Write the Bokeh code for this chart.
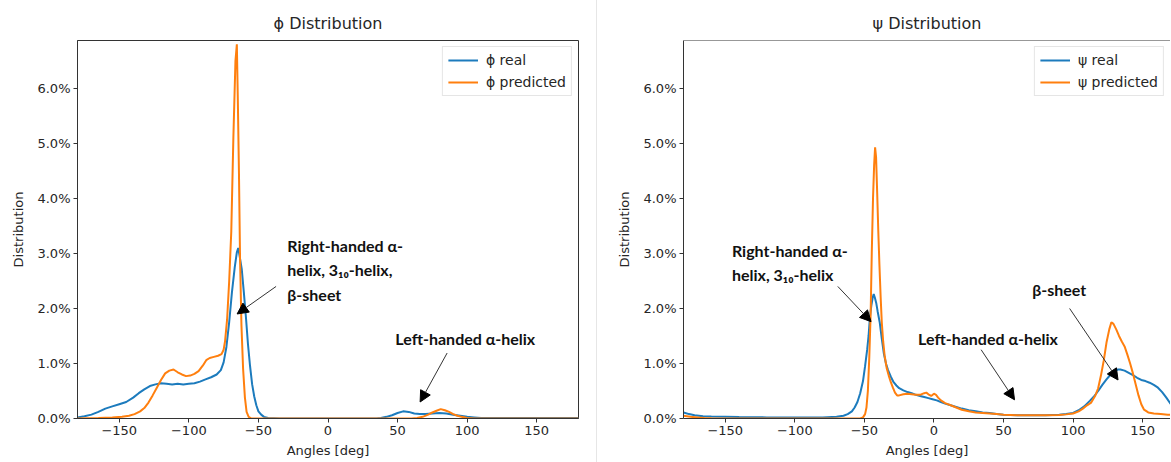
from bokeh.plotting import figure
from bokeh.models import (Label, Arrow, NormalHead, Legend, LegendItem, FixedTicker,
                          CustomJSTickFormatter, Span, Div, Range1d)
from bokeh.layouts import row
from bokeh.embed import file_html
from bokeh.resources import INLINE

# ---------------- data (angles in degrees, distribution in %) ----------------
phi_real_x = [-180, -175, -170, -165, -160, -155, -150, -145, -140, -136, -132, -128, -124, -120,
              -116, -112, -108, -104, -100, -96, -92, -88, -84, -80, -77, -75, -73, -71, -69, -67,
              -65.5, -64.5, -63.5, -62, -60.5, -59, -57.5, -56, -54.5, -53, -51.5, -50, -48, -46,
              -43, -35, 0, 35, 38, 42, 46, 50, 54, 58, 62, 66, 70, 75, 80, 85, 90, 95, 100, 105,
              110, 120, 150, 180]
phi_real_y = [0.02, 0.04, 0.07, 0.12, 0.18, 0.22, 0.26, 0.30, 0.38, 0.46, 0.53, 0.59, 0.62, 0.64,
              0.63, 0.62, 0.63, 0.62, 0.63, 0.64, 0.67, 0.71, 0.75, 0.80, 0.88, 1.02, 1.30, 1.75,
              2.30, 2.75, 3.02, 3.10, 2.95, 2.72, 2.30, 1.85, 1.35, 0.95, 0.62, 0.40, 0.24, 0.13,
              0.07, 0.03, 0.01, 0.0, 0.0, 0.0, 0.01, 0.03, 0.06, 0.10, 0.13, 0.12, 0.09, 0.08, 0.08,
              0.09, 0.10, 0.09, 0.07, 0.05, 0.03, 0.02, 0.01, 0.01, 0.01, 0.01]

phi_pred_x = [-180, -165, -155, -148, -143, -139, -135, -132, -129, -126, -123, -120, -117, -114,
              -111, -108, -105, -102, -99, -96, -93, -90, -87.5, -85, -82, -79, -76.5, -75, -74,
              -72.5, -71, -69.5, -68, -66.5, -65.5, -64.8, -64, -63.2, -62.2, -61, -59.7, -58.5,
              -57, -55, 0, 60, 64, 68, 72, 75, 78, 81, 84, 87, 90, 93, 96, 100, 105, 180]
phi_pred_y = [0.0, 0.01, 0.02, 0.03, 0.05, 0.08, 0.13, 0.19, 0.29, 0.42, 0.56, 0.70, 0.82, 0.87,
              0.89, 0.84, 0.80, 0.77, 0.78, 0.81, 0.86, 0.96, 1.06, 1.10, 1.12, 1.14, 1.17, 1.25,
              1.40, 1.80, 2.50, 3.40, 5.10, 6.50, 6.80, 5.80, 4.50, 2.90, 1.70, 0.90, 0.38, 0.12,
              0.03, 0.0, 0.0, 0.0, 0.01, 0.03, 0.07, 0.11, 0.14, 0.17, 0.15, 0.12, 0.08, 0.05,
              0.03, 0.01, 0.0, 0.0]

psi_real_x = [-180, -176, -172, -166, -160, -150, -140, -120, -100, -80, -70, -65, -62, -59, -57,
              -55, -53, -51, -49.5, -48, -47, -46, -45, -44, -43.3, -42.5, -41.5, -40.5, -39,
              -37.5, -36, -34.5, -33, -31, -29, -27, -25, -22, -19, -16, -13, -10, -7, -4, -1, 2,
              5, 8, 12, 16, 20, 25, 30, 35, 40, 45, 50, 55, 60, 70, 80, 85, 90, 95, 100, 104, 108,
              112, 115, 118, 121, 124, 127, 130, 132, 134, 137, 140, 143, 146, 149, 152, 155, 158,
              161, 164, 167, 170, 173, 176, 180]
psi_real_y = [0.11, 0.08, 0.06, 0.04, 0.035, 0.03, 0.025, 0.02, 0.02, 0.02, 0.03, 0.05, 0.08, 0.13,
              0.20, 0.30, 0.46, 0.68, 0.95, 1.25, 1.50, 1.85, 2.05, 2.20, 2.26, 2.20, 2.10, 1.95,
              1.75, 1.45, 1.18, 1.00, 0.88, 0.76, 0.66, 0.60, 0.55, 0.51, 0.48, 0.46, 0.43, 0.41,
              0.39, 0.37, 0.35, 0.33, 0.30, 0.27, 0.24, 0.21, 0.18, 0.15, 0.13, 0.11, 0.10, 0.08,
              0.07, 0.065, 0.06, 0.06, 0.06, 0.065, 0.07, 0.08, 0.10, 0.15, 0.22, 0.32, 0.40, 0.50,
              0.61, 0.71, 0.80, 0.86, 0.89, 0.89, 0.87, 0.83, 0.79, 0.74, 0.70, 0.68, 0.65, 0.61,
              0.56, 0.48, 0.38, 0.27, 0.20, 0.15, 0.11]

psi_pred_x = [-180, -175, -170, -165, -160, -150, -53, -51, -49.5, -48.5, -47.5, -46.5, -45.5,
              -44.7, -43.8, -43, -42.3, -41.6, -40.8, -40, -39.2, -38.3, -37.5, -36.5, -35.5, -34,
              -32.5, -31, -29.5, -28, -26.5, -25, -22, -19, -16, -13, -10, -7, -5.5, -4, -2, 0, 1.5,
              3, 5, 8, 12, 16, 20, 25, 30, 35, 40, 45, 50, 60, 70, 80, 90, 95, 100, 104, 107, 110,
              113, 116, 118, 120, 122, 124, 126, 127.5, 129, 131, 133, 135, 137, 139, 141, 143, 145,
              147, 149, 151, 154, 158, 163, 168, 174, 180]
psi_pred_y = [0.05, 0.03, 0.02, 0.01, 0.005, 0.0, 0.0, 0.02, 0.08, 0.20, 0.50, 1.10, 1.90, 3.00,
              4.00, 4.60, 4.93, 4.75, 4.10, 3.40, 2.80, 2.20, 1.75, 1.40, 1.15, 0.92, 0.78, 0.66,
              0.56, 0.47, 0.42, 0.42, 0.44, 0.45, 0.44, 0.43, 0.43, 0.46, 0.47, 0.44, 0.41, 0.45,
              0.43, 0.38, 0.33, 0.28, 0.24, 0.20, 0.16, 0.13, 0.11, 0.10, 0.09, 0.08, 0.07, 0.06,
              0.06, 0.06, 0.065, 0.075, 0.09, 0.13, 0.18, 0.24, 0.29, 0.42, 0.55, 0.78, 1.05, 1.38,
              1.62, 1.75, 1.72, 1.62, 1.50, 1.40, 1.31, 1.16, 1.00, 0.82, 0.62, 0.42, 0.26, 0.16,
              0.11, 0.09, 0.08, 0.07, 0.06, 0.05]

x_ticks = [-150, -100, -50, 0, 50, 100, 150]
y_ticks = [0, 1, 2, 3, 4, 5, 6]

BLUE = "#1c7bbd"
ORANGE = "#ff7f0e"
TXT = "#262626"
AX = "#333333"
FONT = "DejaVu Sans"
ANN_FONT = "Lato"

Y_TOP = 6.87


def style(p, title_text):
    p.title.text = title_text
    p.title.text_font = FONT
    p.title.text_font_size = "16px"
    p.title.text_font_style = "normal"
    p.title.text_color = TXT
    p.title.align = "center"
    p.title.standoff = 15
    p.background_fill_color = "white"
    p.border_fill_color = "white"
    p.xgrid.visible = False
    p.ygrid.visible = False
    for ax in (p.xaxis[0], p.yaxis[0]):
        ax.axis_line_color = AX
        ax.major_tick_line_color = AX
        ax.major_tick_in = 0
        ax.major_tick_out = 4
        ax.minor_tick_line_color = None
        ax.major_label_text_font = FONT
        ax.major_label_text_font_size = "13px"
        ax.major_label_text_color = TXT
        ax.axis_label_text_font = FONT
        ax.axis_label_text_font_size = "13px"
        ax.axis_label_text_font_style = "normal"
        ax.axis_label_text_color = TXT
        ax.major_label_standoff = 3
    p.xaxis[0].ticker = FixedTicker(ticks=x_ticks)
    p.xaxis[0].formatter = CustomJSTickFormatter(
        code="return tick < 0 ? '\\u2212' + Math.abs(tick) : String(tick);")
    p.xaxis[0].axis_label = "Angles [deg]"
    p.xaxis[0].axis_label_standoff = 5
    p.yaxis[0].ticker = FixedTicker(ticks=y_ticks)
    p.yaxis[0].formatter = CustomJSTickFormatter(code="return tick.toFixed(1) + '%';")
    p.yaxis[0].axis_label = "Distribution"
    p.yaxis[0].axis_label_standoff = 8


def add_legend(p, r1, r2, l1, l2):
    leg = Legend(items=[LegendItem(label=l1, renderers=[r1]), LegendItem(label=l2, renderers=[r2])],
                 location="top_right")
    leg.label_text_font = FONT
    leg.label_text_font_size = "14px"
    leg.label_text_color = TXT
    leg.glyph_width = 30
    leg.glyph_height = 16
    leg.label_height = 16
    leg.label_standoff = 8
    leg.spacing = 6
    leg.padding = 5
    leg.margin = 6
    leg.border_line_color = "#cccccc"
    leg.border_line_width = 1
    leg.background_fill_alpha = 0.85
    p.add_layout(leg)


def label(p, x, y, text):
    p.add_layout(Label(x=x, y=y, text=text, text_font=ANN_FONT, text_font_style="bold",
                       text_font_size="16px", text_color="#111111", text_baseline="middle",
                       text_align="left"))


def arrow(p, xs, ys, xe, ye):
    p.add_layout(Arrow(end=NormalHead(size=11, fill_color="black", line_color="black"),
                       x_start=xs, y_start=ys, x_end=xe, y_end=ye,
                       line_color="#333333", line_width=1))


# ---------------- left panel ----------------
p1 = figure(width=596, height=462, output_backend="svg", toolbar_location=None,
            x_range=Range1d(-180, 180), y_range=Range1d(0, Y_TOP),
            min_border_left=77, min_border_right=18, min_border_top=40, min_border_bottom=44)
style(p1, "\u03d5 Distribution")
p1.outline_line_color = AX
p1.outline_line_width = 1
r1 = p1.line(phi_real_x, phi_real_y, line_color=BLUE, line_width=2)
r2 = p1.line(phi_pred_x, phi_pred_y, line_color=ORANGE, line_width=2)
add_legend(p1, r1, r2, "\u03d5 real", "\u03d5 predicted")
label(p1, -29.3, 3.14, "Right-handed \u03b1-")
label(p1, -29.3, 2.70, "helix, 3\u2081\u2080-helix,")
label(p1, -29.3, 2.26, "\u03b2-sheet")
arrow(p1, -37.3, 2.40, -65.3, 1.90)
label(p1, 48.4, 1.46, "Left-handed \u03b1-helix")
arrow(p1, 85.6, 1.19, 66.2, 0.30)

# ---------------- separator ----------------
sep = Div(width=1, height=462, margin=0, styles={"background-color": "#e6e6e6"})

# ---------------- right panel ----------------
p2 = figure(width=573, height=462, output_backend="svg", toolbar_location=None,
            x_range=Range1d(-180, 170), y_range=Range1d(0, Y_TOP),
            min_border_left=86, min_border_right=0, min_border_top=40, min_border_bottom=44)
style(p2, "\u03c8 Distribution")
p2.title.offset = 5
p2.outline_line_color = None
p2.add_layout(Span(location=Y_TOP, dimension="width", line_color=AX, line_width=1))
r3 = p2.line(psi_real_x, psi_real_y, line_color=BLUE, line_width=2)
r4 = p2.line(psi_pred_x, psi_pred_y, line_color=ORANGE, line_width=2)
add_legend(p2, r3, r4, "\u03c8 real", "\u03c8 predicted")
label(p2, -145.2, 3.05, "Right-handed \u03b1-")
label(p2, -145.2, 2.61, "helix, 3\u2081\u2080-helix")
arrow(p2, -69.1, 2.40, -45.2, 1.76)
label(p2, -11.4, 1.46, "Left-handed \u03b1-helix")
arrow(p2, 33.9, 1.25, 57.9, 0.34)
label(p2, 70.6, 2.34, "\u03b2-sheet")
arrow(p2, 97.5, 2.00, 132.3, 0.70)

layout = row(p1, sep, p2)
open("out.html", "w").write(file_html(layout, INLINE))
